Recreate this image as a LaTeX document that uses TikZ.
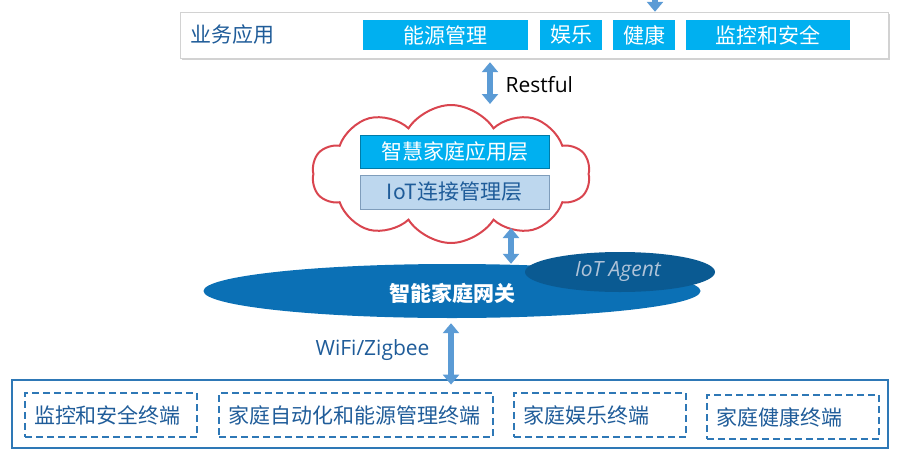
\documentclass[tikz,border=0pt]{standalone}
\usepackage{fontspec}
\setmainfont{Noto Sans CJK SC}
\newfontfamily\latinfont{Open Sans}
\usepackage{tikz}
\usetikzlibrary{arrows.meta, positioning, shapes.geometric, shapes.symbols, shadows}
\definecolor{appCyan}{HTML}{00B0F0}
\definecolor{linkBlue}{HTML}{5B9BD5}
\definecolor{gwBlue}{HTML}{0B70B5}
\definecolor{agentBlue}{HTML}{0A5A92}
\definecolor{agentText}{HTML}{AFC3D8}
\definecolor{cloudRed}{HTML}{D9454F}
\definecolor{textBlue}{HTML}{1F5C99}
\definecolor{mgmtBlue}{HTML}{BDD7EE}
\definecolor{mgmtEdge}{HTML}{7F9DBB}
\definecolor{termBlue}{HTML}{2E78B6}

\begin{document}
\begin{tikzpicture}[x=1pt, y=-1pt,
    cjk/.style={font=\fontsize{21}{24}\selectfont},
    latin/.style={font=\latinfont\fontsize{21}{24}\selectfont},
    appbox/.style={cjk, fill=appCyan, text=white, inner sep=0pt, minimum height=30pt},
    layerbox/.style={cjk, inner sep=0pt, minimum width=189pt, minimum height=33pt},
    link/.style={linkBlue, line width=6.5pt, {Triangle[width=16pt,length=10pt]}-{Triangle[width=16pt,length=10pt]}},
    termbox/.style={cjk, draw=termBlue, line width=2pt, dash pattern=on 7pt off 4pt, text=textBlue,
        minimum height=44pt, inner xsep=9pt, align=left}
]
    \useasboundingbox (0,0) rectangle (918,453);

    % Applications
    \node[draw=gray!35, fill=white, minimum width=708pt, minimum height=46pt,
          drop shadow={shadow xshift=2pt, shadow yshift=-2pt, fill=black!35}] (apps) at (534,35) {};
    \node[cjk, text=textBlue] (appslabel) at (232,35) {业务应用};
    \node[appbox, minimum width=165pt] (energy) at (445.5,35) {能源管理};
    \node[appbox, minimum width=62pt] (fun) at (571,35) {娱乐};
    \node[appbox, minimum width=62pt] (health) at (644,35) {健康};
    \node[appbox, minimum width=164pt] (security) at (768,35) {监控和安全};
    \coordinate (feed) at (655,-20);
    \draw[linkBlue, line width=6.5pt, -{Triangle[width=16pt,length=10pt]}] (feed) -- (feed |- apps.north);

    % Cloud platform
    \node[cloud, draw=cloudRed, fill=white, line width=2pt, cloud puffs=10, cloud puff arc=115,
          cloud ignores aspect, minimum width=278pt, minimum height=138pt] (cloud) at (451,174) {};
    \node[layerbox, fill=appCyan, draw=appCyan!70!black, text=white] (applayer) at (454.5,151.5) {智慧家庭应用层};
    \node[layerbox, fill=mgmtBlue, draw=mgmtEdge, text=textBlue, minimum height=34pt] (iotlayer) at (454.5,192) {IoT连接管理层};

    \coordinate (rest) at (490,0);
    \draw[link] (rest |- apps.south) ++(0,4) coordinate (restA) -- (rest |- cloud.north);
    \node[latin, anchor=west] (restlabel) at (502,85) {Restful};

    % Gateway
    \node[ellipse, fill=gwBlue, minimum width=497pt, minimum height=54pt] (gw) at (452,291) {};
    \node[ellipse, fill=agentBlue, minimum width=190pt, minimum height=40pt] (agent) at (620,272) {};
    \node[font=\latinfont\itshape\fontsize{21}{24}\selectfont, text=agentText] (agentlabel) at (618,272) {IoT Agent};
    \node[cjk, text=white] (gwlabel) at (452,293) {\bfseries 智能家庭网关};

    \coordinate (up) at (511,228);
    \draw[link] (up) -- (up |- gw.north);

    % Terminals
    \node[draw=termBlue, line width=2.8pt, minimum width=876pt, minimum height=68pt] (terms) at (450,414) {};
    \coordinate (wifi) at (451,0);
    \draw[link] (wifi |- gw.south) ++(0,5) coordinate (wifiA) -- ([yshift=-6pt]wifi |- terms.north);
    \node[latin, text=textBlue, anchor=east] (wifilabel) at (433,350) {WiFi/Zigbee};

    \node[termbox, text width=154pt] (t1) at (111,415) {监控和安全终端};
    \node[termbox, text width=256pt] (t2) at (356,415) {家庭自动化和能源管理终端};
    \node[termbox, text width=154pt] (t3) at (600,415) {家庭娱乐终端};
    \node[termbox, text width=154pt] (t4) at (793,417) {家庭健康终端};
\end{tikzpicture}
\end{document}
